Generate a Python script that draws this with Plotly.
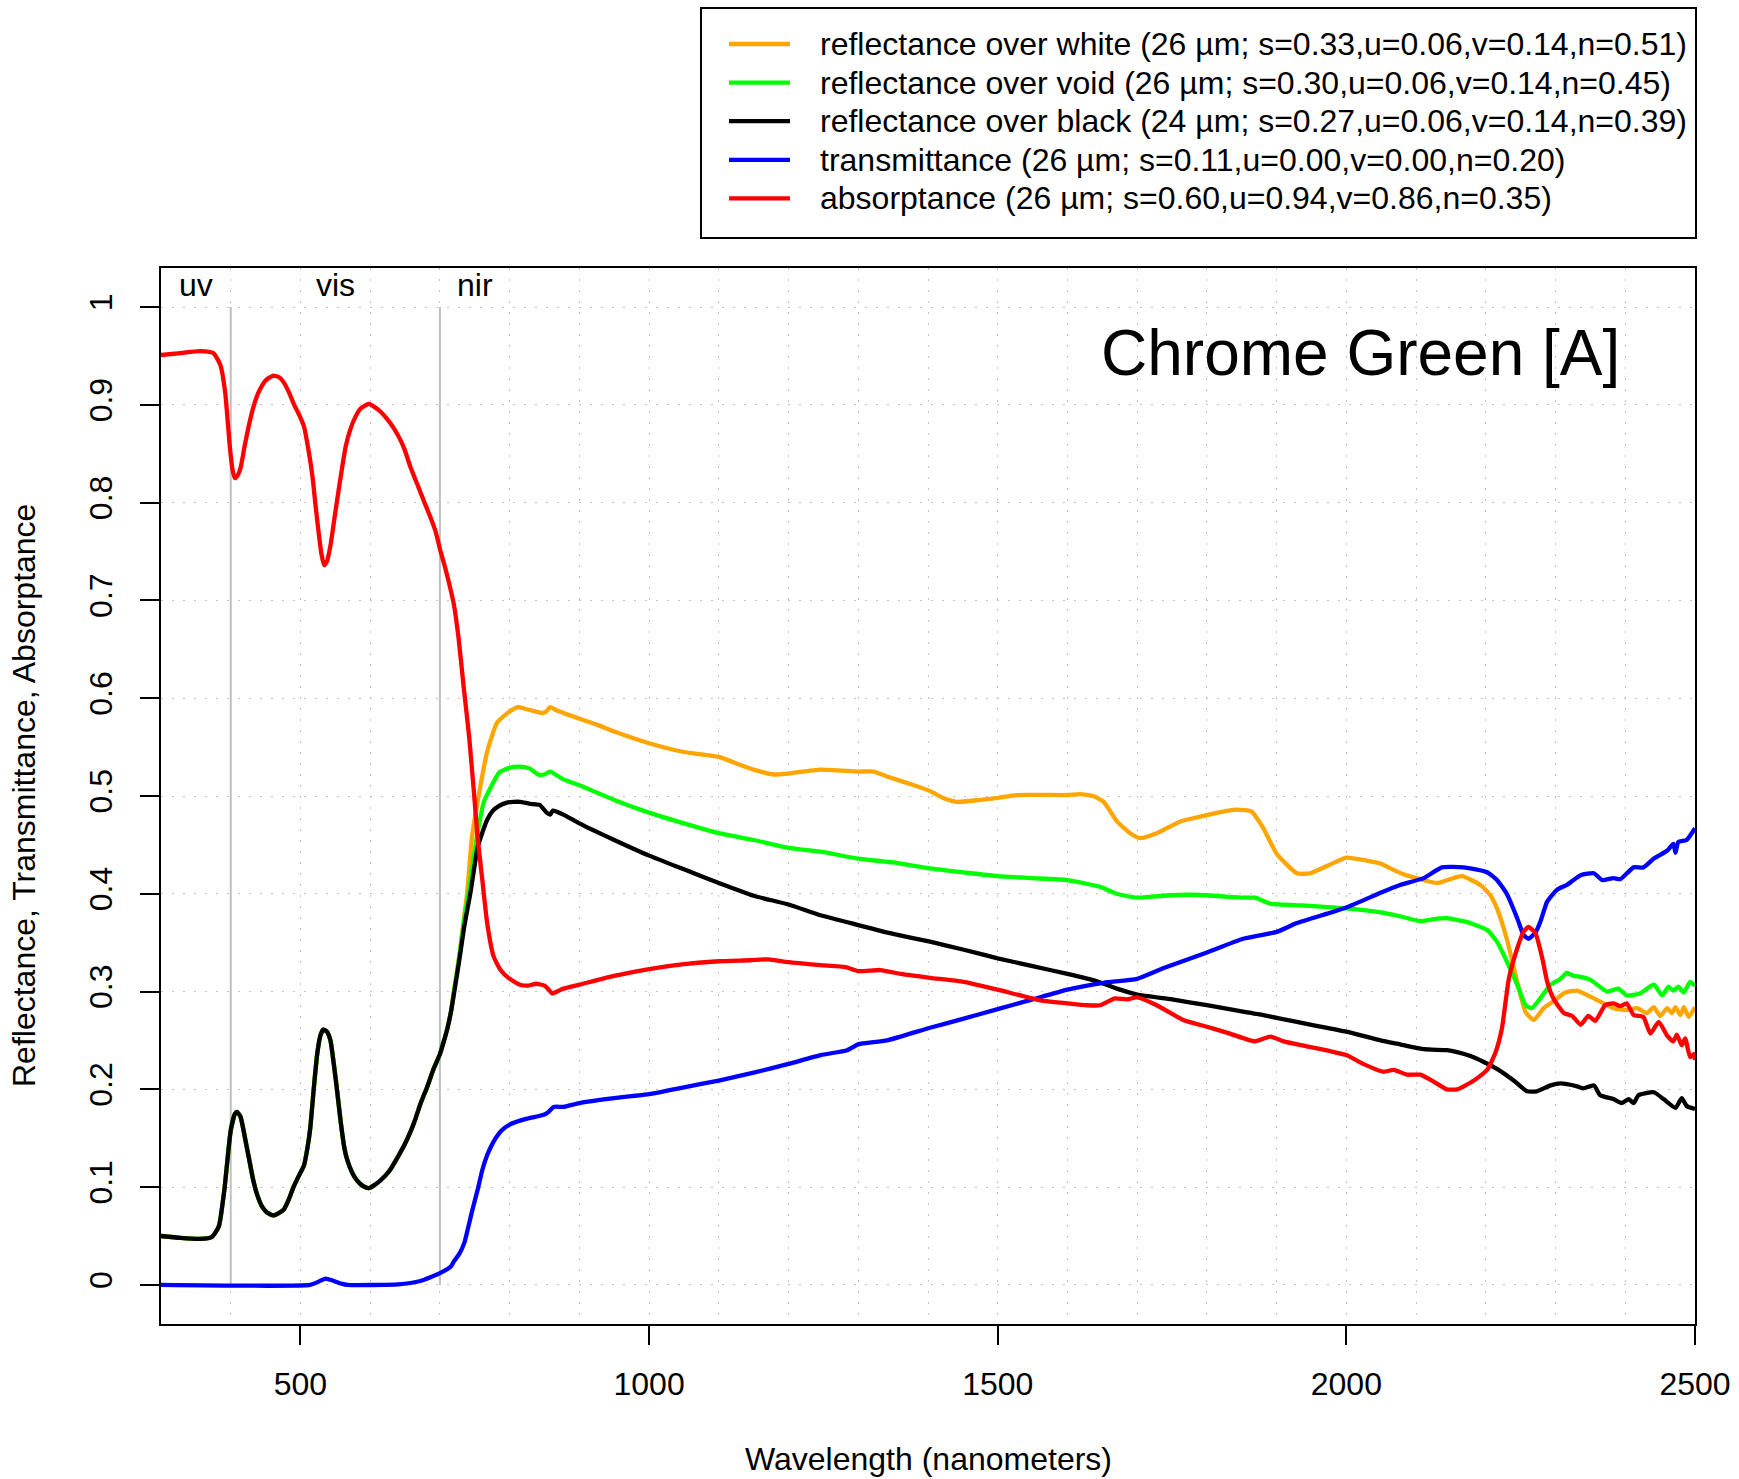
import plotly.graph_objects as go

# ---------------- data ----------------
series_names = [
    "reflectance over white (26 µm; s=0.33,u=0.06,v=0.14,n=0.51)",
    "reflectance over void (26 µm; s=0.30,u=0.06,v=0.14,n=0.45)",
    "reflectance over black (24 µm; s=0.27,u=0.06,v=0.14,n=0.39)",
    "transmittance (26 µm; s=0.11,u=0.00,v=0.00,n=0.20)",
    "absorptance (26 µm; s=0.60,u=0.94,v=0.86,n=0.35)",
]
series_colors = ["#FFA500", "#00FF00", "#000000", "#0000FF", "#FF0000"]

# common reflectance in uv/vis (all three reflectance curves overlap here)
wl_base = [300, 328, 356, 373, 383, 391, 400, 406, 409, 414, 420, 426, 432, 438, 445, 452, 461, 470, 476, 483,
           490, 498, 505, 510, 514, 519, 524, 529, 533, 538, 543, 548, 552, 558, 563, 567, 574, 581, 590, 598,
           606, 615, 628, 639, 649, 658, 665, 672, 682, 691, 700, 706, 711, 716]
refl_base = [0.050, 0.048, 0.047, 0.049, 0.060, 0.098, 0.158, 0.175, 0.177, 0.172, 0.152, 0.130, 0.108, 0.092,
             0.080, 0.074, 0.071, 0.074, 0.077, 0.087, 0.100, 0.112, 0.122, 0.140, 0.160, 0.200, 0.236, 0.256,
             0.261, 0.259, 0.250, 0.225, 0.202, 0.165, 0.140, 0.128, 0.115, 0.107, 0.101, 0.099, 0.102, 0.107,
             0.117, 0.130, 0.143, 0.157, 0.170, 0.185, 0.203, 0.221, 0.236, 0.250, 0.263, 0.280]

wl_white_nir = [720, 728, 735, 739, 746, 756, 768, 782, 799, 812, 823, 834, 846, 852, 858, 866, 877, 900,
                925, 950, 1000, 1050, 1100, 1126, 1150, 1179, 1200, 1246, 1300, 1322, 1341, 1380, 1403, 1422, 1441,
                1475, 1500, 1527, 1600, 1618, 1637, 1652, 1671, 1690, 1704, 1728, 1762, 1785, 1809, 1843, 1864,
                1881, 1900, 1929, 1948, 1977, 2000, 2029, 2049, 2063, 2082, 2101, 2130, 2149, 2166, 2192, 2206,
                2216, 2230, 2245, 2257, 2269, 2283, 2297, 2314, 2331, 2355, 2383, 2402, 2417, 2431, 2441, 2450,
                2460, 2467, 2472, 2479, 2484, 2491, 2500]
refl_white_nir = [0.300, 0.338, 0.378, 0.400, 0.458, 0.502, 0.546, 0.575, 0.586, 0.591, 0.589,
                  0.587, 0.585, 0.586, 0.591, 0.588, 0.585, 0.579, 0.573, 0.566, 0.554, 0.545, 0.540, 0.533,
                  0.527, 0.522, 0.523, 0.527, 0.525, 0.525, 0.520, 0.511, 0.505, 0.498, 0.494, 0.496, 0.498,
                  0.501, 0.501, 0.502, 0.500, 0.494, 0.474, 0.462, 0.457, 0.462, 0.474, 0.478, 0.482, 0.486,
                  0.484, 0.467, 0.441, 0.421, 0.421, 0.430, 0.437, 0.434, 0.431, 0.426, 0.420, 0.416, 0.411,
                  0.415, 0.418, 0.409, 0.399, 0.385, 0.354, 0.310, 0.279, 0.271, 0.283, 0.290, 0.299, 0.301,
                  0.293, 0.283, 0.281, 0.283, 0.278, 0.284, 0.275, 0.283, 0.278, 0.284, 0.276, 0.284, 0.274, 0.284]

wl_void_nir = [720, 728, 735, 741, 753, 763, 773, 785, 801, 815, 829, 841, 850, 858, 877, 900, 950, 1000,
               1050, 1100, 1150, 1200, 1246, 1300, 1350, 1403, 1450, 1500, 1550, 1600, 1647, 1671, 1700, 1738,
               1776, 1809, 1852, 1869, 1891, 1938, 2000, 2049, 2077, 2106, 2125, 2144, 2173, 2202, 2216, 2230,
               2245, 2257, 2266, 2278, 2293, 2307, 2316, 2326, 2336, 2350, 2374, 2390, 2402, 2421, 2441, 2453,
               2462, 2469, 2476, 2484, 2493, 2500]
refl_void_nir = [0.299, 0.336, 0.374, 0.400, 0.458, 0.494, 0.509, 0.524, 0.529, 0.530, 0.528,
                 0.522, 0.522, 0.525, 0.517, 0.511, 0.496, 0.483, 0.472, 0.462, 0.455, 0.447, 0.443, 0.436,
                 0.432, 0.426, 0.422, 0.418, 0.416, 0.414, 0.407, 0.400, 0.396, 0.398, 0.399, 0.398, 0.396,
                 0.396, 0.390, 0.388, 0.385, 0.381, 0.377, 0.372, 0.374, 0.375, 0.371, 0.363, 0.351, 0.331,
                 0.307, 0.286, 0.283, 0.293, 0.307, 0.313, 0.319, 0.316, 0.315, 0.312, 0.300, 0.303, 0.296,
                 0.298, 0.307, 0.296, 0.305, 0.301, 0.305, 0.299, 0.310, 0.306]

wl_black_nir = [720, 728, 735, 744, 754, 761, 768, 776, 785, 795, 806, 815, 829, 843, 853, 858, 862, 877, 900,
                950, 1000, 1050, 1100, 1150, 1200, 1246, 1300, 1350, 1403, 1450, 1500, 1550, 1600, 1640, 1671,
                1700, 1750, 1800, 1840, 1881, 1900, 1950, 2000, 2049, 2077, 2111, 2144, 2159, 2178, 2197, 2216,
                2240, 2259, 2273, 2293, 2307, 2331, 2340, 2355, 2364, 2383, 2395, 2405, 2412, 2419, 2441, 2455,
                2472, 2481, 2488, 2500]
refl_black_nir = [0.297, 0.333, 0.367, 0.402, 0.447, 0.463, 0.476, 0.485, 0.490, 0.493, 0.494, 0.494,
                  0.492, 0.491, 0.483, 0.481, 0.485, 0.481, 0.472, 0.455, 0.439, 0.425, 0.411, 0.398, 0.389,
                  0.378, 0.368, 0.359, 0.351, 0.343, 0.334, 0.326, 0.318, 0.311, 0.303, 0.297, 0.292, 0.286,
                  0.281, 0.276, 0.273, 0.266, 0.259, 0.250, 0.246, 0.241, 0.240, 0.238, 0.234, 0.228, 0.221,
                  0.209, 0.198, 0.198, 0.204, 0.206, 0.203, 0.201, 0.204, 0.194, 0.190, 0.186, 0.190, 0.186,
                  0.194, 0.197, 0.190, 0.181, 0.191, 0.183, 0.180]

wl_trans = [300, 514, 525, 536, 548, 560, 567, 640, 672, 700, 716, 720, 728, 735, 739, 746, 754, 761, 768, 773,
            780, 787, 800, 825, 849, 856, 863, 877, 900, 950, 1000, 1050, 1100, 1150, 1200, 1246, 1284, 1300,
            1341, 1403, 1450, 1500, 1550, 1600, 1652, 1700, 1738, 1800, 1852, 1900, 1929, 2000, 2049, 2077,
            2111, 2137, 2168, 2202, 2216, 2230, 2245, 2254, 2261, 2271, 2278, 2288, 2302, 2316, 2336, 2355,
            2367, 2383, 2393, 2412, 2426, 2441, 2460, 2469, 2472, 2476, 2488, 2500]
trans = [0.000, 0.000, 0.003, 0.0065, 0.004, 0.001, 0.000, 0.0005, 0.004, 0.012, 0.019, 0.024, 0.032, 0.043,
         0.054, 0.075, 0.097, 0.118, 0.133, 0.141, 0.150, 0.157, 0.164, 0.170, 0.174, 0.177, 0.182, 0.182,
         0.186, 0.191, 0.195, 0.202, 0.209, 0.217, 0.226, 0.235, 0.240, 0.246, 0.250, 0.263, 0.272, 0.282,
         0.292, 0.302, 0.309, 0.313, 0.324, 0.340, 0.354, 0.361, 0.370, 0.386, 0.401, 0.409, 0.416, 0.427,
         0.427, 0.422, 0.414, 0.400, 0.375, 0.358, 0.354, 0.360, 0.371, 0.392, 0.404, 0.409, 0.419, 0.421,
         0.414, 0.416, 0.415, 0.427, 0.427, 0.436, 0.444, 0.451, 0.442, 0.453, 0.455, 0.467]

wl_abs = [300, 328, 356, 375, 385, 392, 399, 403, 406, 410, 414, 420, 426, 433, 440, 450, 461, 470, 476, 484,
          491, 498, 505, 511, 517, 522, 526, 530, 534, 538, 543, 550, 558, 565, 572, 579, 586, 598, 606, 615,
          625, 634, 642, 649, 658, 668, 678, 687, 694, 701, 707, 713, 720, 727, 734, 742, 749, 754, 761, 768,
          777, 787, 800, 815, 826, 838, 850, 856, 861, 868, 877, 900, 950, 1000, 1050, 1100,
          1145, 1171, 1200, 1246, 1282, 1300, 1332, 1361, 1403, 1451, 1500, 1561, 1600, 1628, 1647, 1668,
          1685, 1700, 1728, 1766, 1800, 1833, 1869, 1891, 1910, 1943, 1977, 2000, 2024, 2053, 2068, 2087,
          2106, 2125, 2144, 2159, 2183, 2202, 2214, 2223, 2233, 2245, 2254, 2261, 2271, 2281, 2288, 2297,
          2312, 2324, 2336, 2347, 2357, 2371, 2383, 2393, 2402, 2412, 2426, 2436, 2448, 2460, 2469, 2474,
          2481, 2486, 2493, 2498, 2500]
absorp = [0.951, 0.953, 0.955, 0.953, 0.941, 0.913, 0.855, 0.832, 0.825, 0.828, 0.835, 0.858, 0.879, 0.899,
          0.913, 0.925, 0.930, 0.928, 0.923, 0.912, 0.900, 0.890, 0.878, 0.856, 0.828, 0.795, 0.770, 0.748,
          0.736, 0.740, 0.756, 0.790, 0.828, 0.858, 0.876, 0.888, 0.896, 0.901, 0.898, 0.893, 0.885, 0.876,
          0.866, 0.855, 0.836, 0.818, 0.800, 0.784, 0.770, 0.750, 0.735, 0.718, 0.696, 0.660, 0.612, 0.560,
          0.502, 0.458, 0.413, 0.369, 0.336, 0.322, 0.313, 0.307, 0.306, 0.308, 0.306,
          0.302, 0.298, 0.300, 0.303, 0.307, 0.316, 0.323, 0.328, 0.331, 0.332, 0.333, 0.330, 0.327, 0.325,
          0.321, 0.322, 0.318, 0.314, 0.310, 0.302, 0.291, 0.288, 0.286, 0.286, 0.293, 0.292, 0.294, 0.286,
          0.271, 0.264, 0.257, 0.249, 0.254, 0.249, 0.244, 0.239, 0.235, 0.226, 0.218, 0.220, 0.215, 0.215,
          0.208, 0.200, 0.200, 0.209, 0.220, 0.238, 0.262, 0.313, 0.344, 0.361, 0.366, 0.360, 0.334, 0.310,
          0.293, 0.278, 0.275, 0.266, 0.275, 0.270, 0.286, 0.288, 0.285, 0.288, 0.276, 0.274, 0.257, 0.269,
          0.255, 0.249, 0.256, 0.245, 0.252, 0.233, 0.236, 0.230]

x_tick_vals = [500, 1000, 1500, 2000, 2500]
y_tick_vals = [0, 0.1, 0.2, 0.3, 0.4, 0.5, 0.6, 0.7, 0.8, 0.9, 1.0]
y_tick_text = ["0", "0.1", "0.2", "0.3", "0.4", "0.5", "0.6", "0.7", "0.8", "0.9", "1"]

region_bounds = [400, 700]
region_labels = ["uv", "vis", "nir"]
region_label_x = [350, 550, 750]

chart_title = "Chrome Green [A]"
x_title = "Wavelength (nanometers)"
y_title = "Reflectance, Transmittance, Absorptance"

# ---------------- layout geometry ----------------
W, H = 1739, 1479
ML, MR, MT, MB = 161, 44, 268, 155
PW = W - ML - MR
PH = H - MT - MB


def px_x(px):
    return (px - ML) / PW


def px_y(py):
    return (H - MB - py) / PH


FONT = "Liberation Sans, Arial, Helvetica, sans-serif"
FS = 32
GRID = "#c4c4c4"
GRID_DASH = "2px,9px"
LW = 4.3

series_x = [wl_base + wl_white_nir, wl_base + wl_void_nir, wl_base + wl_black_nir, wl_trans, wl_abs]
series_y = [refl_base + refl_white_nir, refl_base + refl_void_nir, refl_base + refl_black_nir, trans, absorp]

fig = go.Figure()
for name, color, xs, ys in zip(series_names, series_colors, series_x, series_y):
    fig.add_trace(go.Scatter(x=xs, y=ys, mode="lines", name=name,
                             line=dict(color=color, width=LW, shape="spline", smoothing=0.5),
                             showlegend=False))

shapes = []
annotations = []

# region separators
for b in region_bounds:
    shapes.append(dict(type="line", xref="x", yref="y", x0=b, x1=b, y0=0, y1=1,
                       line=dict(color="#bebebe", width=2), layer="below"))
for lab, lx in zip(region_labels, region_label_x):
    annotations.append(dict(x=lx, y=1.023, xref="x", yref="y", text=lab, showarrow=False,
                            xanchor="center", yanchor="middle", font=dict(size=FS, color="black", family=FONT)))

# title inside the plot
annotations.append(dict(x=2020, y=0.953, xref="x", yref="y", text=chart_title, showarrow=False,
                        xanchor="center", yanchor="middle", font=dict(size=64, color="black", family=FONT)))

# axis titles
annotations.append(dict(x=0.5, y=px_y(1459), xref="paper", yref="paper", text=x_title, showarrow=False,
                        xanchor="center", yanchor="middle", font=dict(size=FS, color="black", family=FONT)))
annotations.append(dict(x=px_x(24), y=0.5, xref="paper", yref="paper", text=y_title, showarrow=False,
                        textangle=-90, xanchor="center", yanchor="middle",
                        font=dict(size=FS, color="black", family=FONT)))

# legend (box, sample lines, labels)
shapes.append(dict(type="rect", xref="paper", yref="paper", x0=px_x(701), x1=px_x(1696),
                   y0=px_y(238), y1=px_y(8), line=dict(color="black", width=2), fillcolor="white"))
for i, (name, color) in enumerate(zip(series_names, series_colors)):
    yc = px_y(44 + 38.6 * i)
    shapes.append(dict(type="line", xref="paper", yref="paper", x0=px_x(729), x1=px_x(790), y0=yc, y1=yc,
                       line=dict(color=color, width=LW)))
    annotations.append(dict(x=px_x(818), y=yc, xref="paper", yref="paper", text=name, showarrow=False,
                            xanchor="left", yanchor="middle", font=dict(size=FS, color="black", family=FONT)))

axis_common = dict(showline=True, linecolor="black", linewidth=2.2, mirror=True,
                   ticks="outside", ticklen=19, tickwidth=2, tickcolor="black",
                   showgrid=True, gridcolor=GRID, gridwidth=1.4, griddash=GRID_DASH,
                   zeroline=False, tickfont=dict(size=FS, color="black", family=FONT))

fig.update_layout(
    width=W, height=H,
    margin=dict(l=ML, r=MR, t=MT, b=MB, autoexpand=False),
    paper_bgcolor="white", plot_bgcolor="white",
    font=dict(family=FONT, size=FS, color="black"),
    xaxis=dict(range=[300, 2500], tickmode="array", tickvals=x_tick_vals, ticklabelstandoff=11,
               minor=dict(dtick=100, tick0=300, showgrid=True, gridcolor=GRID, gridwidth=1.4,
                          griddash=GRID_DASH, ticks=""),
               **axis_common),
    yaxis=dict(range=[-0.04, 1.04], tickmode="array", tickvals=y_tick_vals, ticktext=y_tick_text,
               tickangle=-90, ticklabelstandoff=15, **axis_common),
    shapes=shapes,
    annotations=annotations,
    showlegend=False,
)

fig.write_html("out.html", config={"displayModeBar": False},
               post_script="document.body.style.margin='0px';")
